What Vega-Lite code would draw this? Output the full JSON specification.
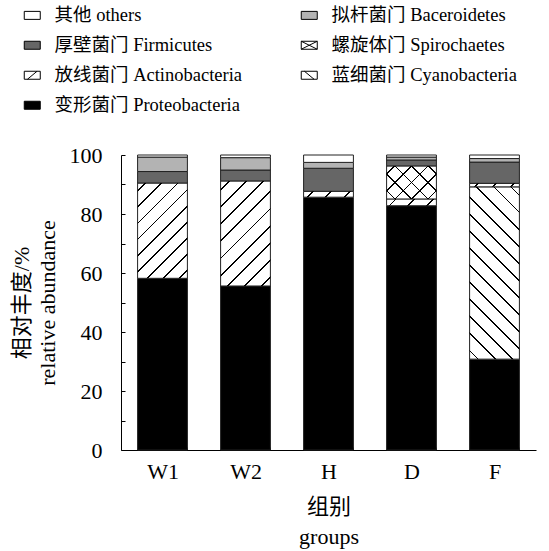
{
  "$schema": "https://vega.github.io/schema/vega-lite/v6.json",
  "width": 415,
  "height": 295,
  "autosize": {"type": "none"},
  "padding": {"left": 121, "top": 155, "right": 13, "bottom": 101},
  "background": "white",
  "config": {"view": {"stroke": null}},
  "data": {
    "values": [
      {"group": "W1", "phylum": "变形菌门 Proteobacteria", "value": 58.2},
      {"group": "W1", "phylum": "放线菌门 Actinobacteria", "value": 32.3},
      {"group": "W1", "phylum": "厚壁菌门 Firmicutes", "value": 3.9},
      {"group": "W1", "phylum": "拟杆菌门 Baceroidetes", "value": 4.9},
      {"group": "W1", "phylum": "其他 others", "value": 0.7},
      {"group": "W2", "phylum": "变形菌门 Proteobacteria", "value": 55.6},
      {"group": "W2", "phylum": "放线菌门 Actinobacteria", "value": 35.6},
      {"group": "W2", "phylum": "厚壁菌门 Firmicutes", "value": 3.7},
      {"group": "W2", "phylum": "拟杆菌门 Baceroidetes", "value": 4.2},
      {"group": "W2", "phylum": "其他 others", "value": 0.9},
      {"group": "H", "phylum": "变形菌门 Proteobacteria", "value": 85.7},
      {"group": "H", "phylum": "放线菌门 Actinobacteria", "value": 2.0},
      {"group": "H", "phylum": "厚壁菌门 Firmicutes", "value": 7.8},
      {"group": "H", "phylum": "拟杆菌门 Baceroidetes", "value": 2.0},
      {"group": "H", "phylum": "其他 others", "value": 2.5},
      {"group": "D", "phylum": "变形菌门 Proteobacteria", "value": 82.8},
      {"group": "D", "phylum": "放线菌门 Actinobacteria", "value": 2.3},
      {"group": "D", "phylum": "螺旋体门 Spirochaetes", "value": 11.2},
      {"group": "D", "phylum": "厚壁菌门 Firmicutes", "value": 2.0},
      {"group": "D", "phylum": "拟杆菌门 Baceroidetes", "value": 1.0},
      {"group": "D", "phylum": "其他 others", "value": 0.7},
      {"group": "F", "phylum": "变形菌门 Proteobacteria", "value": 30.8},
      {"group": "F", "phylum": "蓝细菌门 Cyanobacteria", "value": 58.4},
      {"group": "F", "phylum": "放线菌门 Actinobacteria", "value": 1.2},
      {"group": "F", "phylum": "厚壁菌门 Firmicutes", "value": 7.2},
      {"group": "F", "phylum": "拟杆菌门 Baceroidetes", "value": 1.2},
      {"group": "F", "phylum": "其他 others", "value": 1.2}
    ]
  },
  "transform": [
    {"stack": "value", "groupby": ["group"], "as": ["y0", "y1"]}
  ],
  "encoding": {
    "x": {
      "field": "group", "type": "nominal", "sort": ["W1", "W2", "H", "D", "F"],
      "scale": {"paddingInner": 0.4, "paddingOuter": 0.2},
      "axis": {
        "title": ["组别", "groups"], "titleFont": "'Liberation Serif', 'Noto Sans CJK SC'", "titleFontSize": 22,
        "titleFontWeight": "normal", "titleColor": "black", "titlePadding": 14, "titleLineHeight": 30,
        "labelAngle": 0, "labelFont": "Liberation Serif", "labelFontSize": 22, "labelColor": "black", "labelPadding": 14,
        "tickBand": "extent", "tickSize": -3, "tickColor": "black", "domainColor": "black", "grid": false
      }
    },
    "y": {
      "field": "y0", "type": "quantitative",
      "scale": {"domain": [0, 100], "nice": false},
      "axis": {
        "title": ["相对丰度/%", "relative abundance"], "titleFont": "'Liberation Serif', 'Noto Sans CJK SC'", "titleFontSize": 22,
        "titleFontWeight": "normal", "titleColor": "black", "titlePadding": 10, "titleLineHeight": 26,
        "values": [0, 10, 20, 30, 40, 50, 60, 70, 80, 90, 100],
        "labelExpr": "datum.value % 20 === 0 ? datum.label : ''",
        "labelFont": "Liberation Serif", "labelFontSize": 22, "labelColor": "black", "labelPadding": 23,
        "tickSize": -4, "tickColor": "black", "domainColor": "black", "grid": false
      }
    },
    "y2": {"field": "y1"}
  },
  "layer": [
    {
      "mark": {"type": "bar", "stroke": "#222", "strokeWidth": 1},
      "encoding": {
        "color": {
          "field": "phylum", "type": "nominal",
          "scale": {
            "domain": ["其他 others", "厚壁菌门 Firmicutes", "放线菌门 Actinobacteria", "变形菌门 Proteobacteria", "拟杆菌门 Baceroidetes", "螺旋体门 Spirochaetes", "蓝细菌门 Cyanobacteria"],
            "range": ["#ffffff", "#666666", "#ffffff", "#000000", "#b3b3b3", "#ffffff", "#ffffff"]
          },
          "legend": {
            "orient": "none", "legendX": -98, "legendY": -149, "columns": 2, "columnPadding": 56, "rowPadding": 11,
            "gridAlign": "each", "title": null, "padding": 0,
            "labelFont": "'Liberation Serif', 'Noto Sans CJK SC'", "labelFontSize": 18.5, "labelColor": "black", "labelLimit": 400, "labelOffset": 13,
            "symbolType": "M-1,-0.5H1V0.5H-1Z", "symbolSize": 256, "symbolStrokeColor": "black", "symbolStrokeWidth": 1, "symbolOpacity": 1,
            "encode": {
              "symbols": {
                "update": {
                  "shape": {"signal": "indexof(datum.value,'Actino')>=0 ? 'M-1,-0.5H1V0.5H-1ZM-0.6,0.5L0.6,-0.5' : indexof(datum.value,'Spiro')>=0 ? 'M-1,-0.5H1V0.5H-1ZM-1,-0.5L1,0.5M-1,0.5L1,-0.5' : indexof(datum.value,'Cyano')>=0 ? 'M-1,-0.5H1V0.5H-1ZM-0.6,-0.5L0.6,0.5' : 'M-1,-0.5H1V0.5H-1Z'"}
                }
              }
            }
          }
        }
      }
    },
    {
      "transform": [{"filter": "(datum.group==='W1') && indexof(datum.phylum,'Actino')>=0"}],
      "mark": {"type": "bar", "strokeWidth": 0, "fill": {"gradient": "linear", "x1": 0, "y1": 0, "x2": 0.625, "y2": 1.196, "stops": [
        {"offset": 0, "color": "rgba(0,0,0,0)"},
        {"offset": 0.0496, "color": "rgba(0,0,0,0)"}, {"offset": 0.0496, "color": "black"}, {"offset": 0.0616, "color": "black"}, {"offset": 0.0616, "color": "rgba(0,0,0,0)"},
        {"offset": 0.1607, "color": "rgba(0,0,0,0)"}, {"offset": 0.1607, "color": "black"}, {"offset": 0.1727, "color": "black"}, {"offset": 0.1727, "color": "rgba(0,0,0,0)"},
        {"offset": 0.2718, "color": "rgba(0,0,0,0)"}, {"offset": 0.2718, "color": "black"}, {"offset": 0.2838, "color": "black"}, {"offset": 0.2838, "color": "rgba(0,0,0,0)"},
        {"offset": 0.3829, "color": "rgba(0,0,0,0)"}, {"offset": 0.3829, "color": "black"}, {"offset": 0.3949, "color": "black"}, {"offset": 0.3949, "color": "rgba(0,0,0,0)"},
        {"offset": 0.494, "color": "rgba(0,0,0,0)"}, {"offset": 0.494, "color": "black"}, {"offset": 0.506, "color": "black"}, {"offset": 0.506, "color": "rgba(0,0,0,0)"},
        {"offset": 0.6051, "color": "rgba(0,0,0,0)"}, {"offset": 0.6051, "color": "black"}, {"offset": 0.6171, "color": "black"}, {"offset": 0.6171, "color": "rgba(0,0,0,0)"},
        {"offset": 0.7162, "color": "rgba(0,0,0,0)"}, {"offset": 0.7162, "color": "black"}, {"offset": 0.7282, "color": "black"}, {"offset": 0.7282, "color": "rgba(0,0,0,0)"},
        {"offset": 0.8273, "color": "rgba(0,0,0,0)"}, {"offset": 0.8273, "color": "black"}, {"offset": 0.8393, "color": "black"}, {"offset": 0.8393, "color": "rgba(0,0,0,0)"},
        {"offset": 0.9384, "color": "rgba(0,0,0,0)"}, {"offset": 0.9384, "color": "black"}, {"offset": 0.9504, "color": "black"}, {"offset": 0.9504, "color": "rgba(0,0,0,0)"},
        {"offset": 1, "color": "rgba(0,0,0,0)"}
      ]}}
    },
    {
      "transform": [{"filter": "(datum.group==='W2') && indexof(datum.phylum,'Actino')>=0"}],
      "mark": {"type": "bar", "strokeWidth": 0, "fill": {"gradient": "linear", "x1": 0, "y1": 0, "x2": 0.571, "y2": 1.204, "stops": [
        {"offset": 0, "color": "rgba(0,0,0,0)"},
        {"offset": 0.0496, "color": "rgba(0,0,0,0)"}, {"offset": 0.0496, "color": "black"}, {"offset": 0.0616, "color": "black"}, {"offset": 0.0616, "color": "rgba(0,0,0,0)"},
        {"offset": 0.1607, "color": "rgba(0,0,0,0)"}, {"offset": 0.1607, "color": "black"}, {"offset": 0.1727, "color": "black"}, {"offset": 0.1727, "color": "rgba(0,0,0,0)"},
        {"offset": 0.2718, "color": "rgba(0,0,0,0)"}, {"offset": 0.2718, "color": "black"}, {"offset": 0.2838, "color": "black"}, {"offset": 0.2838, "color": "rgba(0,0,0,0)"},
        {"offset": 0.3829, "color": "rgba(0,0,0,0)"}, {"offset": 0.3829, "color": "black"}, {"offset": 0.3949, "color": "black"}, {"offset": 0.3949, "color": "rgba(0,0,0,0)"},
        {"offset": 0.494, "color": "rgba(0,0,0,0)"}, {"offset": 0.494, "color": "black"}, {"offset": 0.506, "color": "black"}, {"offset": 0.506, "color": "rgba(0,0,0,0)"},
        {"offset": 0.6051, "color": "rgba(0,0,0,0)"}, {"offset": 0.6051, "color": "black"}, {"offset": 0.6171, "color": "black"}, {"offset": 0.6171, "color": "rgba(0,0,0,0)"},
        {"offset": 0.7162, "color": "rgba(0,0,0,0)"}, {"offset": 0.7162, "color": "black"}, {"offset": 0.7282, "color": "black"}, {"offset": 0.7282, "color": "rgba(0,0,0,0)"},
        {"offset": 0.8273, "color": "rgba(0,0,0,0)"}, {"offset": 0.8273, "color": "black"}, {"offset": 0.8393, "color": "black"}, {"offset": 0.8393, "color": "rgba(0,0,0,0)"},
        {"offset": 0.9384, "color": "rgba(0,0,0,0)"}, {"offset": 0.9384, "color": "black"}, {"offset": 0.9504, "color": "black"}, {"offset": 0.9504, "color": "rgba(0,0,0,0)"},
        {"offset": 1, "color": "rgba(0,0,0,0)"}
      ]}}
    },
    {
      "transform": [{"filter": "(datum.group==='H') && indexof(datum.phylum,'Actino')>=0"}],
      "mark": {"type": "bar", "strokeWidth": 0, "fill": {"gradient": "linear", "x1": 0, "y1": 0, "x2": 1.103, "y2": 0.1307, "stops": [
        {"offset": 0, "color": "rgba(0,0,0,0)"},
        {"offset": 0.1507, "color": "rgba(0,0,0,0)"}, {"offset": 0.1507, "color": "black"}, {"offset": 0.1827, "color": "black"}, {"offset": 0.1827, "color": "rgba(0,0,0,0)"},
        {"offset": 0.484, "color": "rgba(0,0,0,0)"}, {"offset": 0.484, "color": "black"}, {"offset": 0.516, "color": "black"}, {"offset": 0.516, "color": "rgba(0,0,0,0)"},
        {"offset": 0.8173, "color": "rgba(0,0,0,0)"}, {"offset": 0.8173, "color": "black"}, {"offset": 0.8493, "color": "black"}, {"offset": 0.8493, "color": "rgba(0,0,0,0)"},
        {"offset": 1, "color": "rgba(0,0,0,0)"}
      ]}}
    },
    {
      "transform": [{"filter": "(datum.group==='D') && indexof(datum.phylum,'Actino')>=0"}],
      "mark": {"type": "bar", "strokeWidth": 0, "fill": {"gradient": "linear", "x1": 0, "y1": 0, "x2": 1.116, "y2": 0.1524, "stops": [
        {"offset": 0, "color": "rgba(0,0,0,0)"},
        {"offset": 0.1507, "color": "rgba(0,0,0,0)"}, {"offset": 0.1507, "color": "black"}, {"offset": 0.1827, "color": "black"}, {"offset": 0.1827, "color": "rgba(0,0,0,0)"},
        {"offset": 0.484, "color": "rgba(0,0,0,0)"}, {"offset": 0.484, "color": "black"}, {"offset": 0.516, "color": "black"}, {"offset": 0.516, "color": "rgba(0,0,0,0)"},
        {"offset": 0.8173, "color": "rgba(0,0,0,0)"}, {"offset": 0.8173, "color": "black"}, {"offset": 0.8493, "color": "black"}, {"offset": 0.8493, "color": "rgba(0,0,0,0)"},
        {"offset": 1, "color": "rgba(0,0,0,0)"}
      ]}}
    },
    {
      "transform": [{"filter": "(datum.group==='F') && indexof(datum.phylum,'Actino')>=0"}],
      "mark": {"type": "bar", "strokeWidth": 0, "fill": {"gradient": "linear", "x1": 0, "y1": 0, "x2": 1.066, "y2": 0.0758, "stops": [
        {"offset": 0, "color": "rgba(0,0,0,0)"},
        {"offset": 0.1507, "color": "rgba(0,0,0,0)"}, {"offset": 0.1507, "color": "black"}, {"offset": 0.1827, "color": "black"}, {"offset": 0.1827, "color": "rgba(0,0,0,0)"},
        {"offset": 0.484, "color": "rgba(0,0,0,0)"}, {"offset": 0.484, "color": "black"}, {"offset": 0.516, "color": "black"}, {"offset": 0.516, "color": "rgba(0,0,0,0)"},
        {"offset": 0.8173, "color": "rgba(0,0,0,0)"}, {"offset": 0.8173, "color": "black"}, {"offset": 0.8493, "color": "black"}, {"offset": 0.8493, "color": "rgba(0,0,0,0)"},
        {"offset": 1, "color": "rgba(0,0,0,0)"}
      ]}}
    },
    {
      "transform": [{"filter": "(datum.group==='D') && indexof(datum.phylum,'Spiro')>=0"}],
      "mark": {"type": "bar", "strokeWidth": 0, "fill": {"gradient": "linear", "x1": 0, "y1": 0, "x2": 1.155, "y2": 0.766, "stops": [
        {"offset": 0, "color": "rgba(0,0,0,0)"},
        {"offset": 0.089, "color": "rgba(0,0,0,0)"}, {"offset": 0.089, "color": "black"}, {"offset": 0.111, "color": "black"}, {"offset": 0.111, "color": "rgba(0,0,0,0)"},
        {"offset": 0.289, "color": "rgba(0,0,0,0)"}, {"offset": 0.289, "color": "black"}, {"offset": 0.311, "color": "black"}, {"offset": 0.311, "color": "rgba(0,0,0,0)"},
        {"offset": 0.489, "color": "rgba(0,0,0,0)"}, {"offset": 0.489, "color": "black"}, {"offset": 0.511, "color": "black"}, {"offset": 0.511, "color": "rgba(0,0,0,0)"},
        {"offset": 0.689, "color": "rgba(0,0,0,0)"}, {"offset": 0.689, "color": "black"}, {"offset": 0.711, "color": "black"}, {"offset": 0.711, "color": "rgba(0,0,0,0)"},
        {"offset": 0.889, "color": "rgba(0,0,0,0)"}, {"offset": 0.889, "color": "black"}, {"offset": 0.911, "color": "black"}, {"offset": 0.911, "color": "rgba(0,0,0,0)"},
        {"offset": 1, "color": "rgba(0,0,0,0)"}
      ]}}
    },
    {
      "transform": [{"filter": "(datum.group==='D') && indexof(datum.phylum,'Spiro')>=0"}],
      "mark": {"type": "bar", "strokeWidth": 0, "fill": {"gradient": "linear", "x1": 0, "y1": 1, "x2": 1.155, "y2": 0.234, "stops": [
        {"offset": 0, "color": "rgba(0,0,0,0)"},
        {"offset": 0.089, "color": "rgba(0,0,0,0)"}, {"offset": 0.089, "color": "black"}, {"offset": 0.111, "color": "black"}, {"offset": 0.111, "color": "rgba(0,0,0,0)"},
        {"offset": 0.289, "color": "rgba(0,0,0,0)"}, {"offset": 0.289, "color": "black"}, {"offset": 0.311, "color": "black"}, {"offset": 0.311, "color": "rgba(0,0,0,0)"},
        {"offset": 0.489, "color": "rgba(0,0,0,0)"}, {"offset": 0.489, "color": "black"}, {"offset": 0.511, "color": "black"}, {"offset": 0.511, "color": "rgba(0,0,0,0)"},
        {"offset": 0.689, "color": "rgba(0,0,0,0)"}, {"offset": 0.689, "color": "black"}, {"offset": 0.711, "color": "black"}, {"offset": 0.711, "color": "rgba(0,0,0,0)"},
        {"offset": 0.889, "color": "rgba(0,0,0,0)"}, {"offset": 0.889, "color": "black"}, {"offset": 0.911, "color": "black"}, {"offset": 0.911, "color": "rgba(0,0,0,0)"},
        {"offset": 1, "color": "rgba(0,0,0,0)"}
      ]}}
    },
    {
      "transform": [{"filter": "(datum.group==='F') && indexof(datum.phylum,'Cyano')>=0"}],
      "mark": {"type": "bar", "strokeWidth": 0, "fill": {"gradient": "linear", "x1": 0, "y1": 1, "x2": 0.344, "y2": -0.19, "stops": [
        {"offset": 0, "color": "rgba(0,0,0,0)"},
        {"offset": 0.0343, "color": "rgba(0,0,0,0)"}, {"offset": 0.0343, "color": "black"}, {"offset": 0.0427, "color": "black"}, {"offset": 0.0427, "color": "rgba(0,0,0,0)"},
        {"offset": 0.1112, "color": "rgba(0,0,0,0)"}, {"offset": 0.1112, "color": "black"}, {"offset": 0.1196, "color": "black"}, {"offset": 0.1196, "color": "rgba(0,0,0,0)"},
        {"offset": 0.1881, "color": "rgba(0,0,0,0)"}, {"offset": 0.1881, "color": "black"}, {"offset": 0.1965, "color": "black"}, {"offset": 0.1965, "color": "rgba(0,0,0,0)"},
        {"offset": 0.265, "color": "rgba(0,0,0,0)"}, {"offset": 0.265, "color": "black"}, {"offset": 0.2734, "color": "black"}, {"offset": 0.2734, "color": "rgba(0,0,0,0)"},
        {"offset": 0.342, "color": "rgba(0,0,0,0)"}, {"offset": 0.342, "color": "black"}, {"offset": 0.3504, "color": "black"}, {"offset": 0.3504, "color": "rgba(0,0,0,0)"},
        {"offset": 0.4189, "color": "rgba(0,0,0,0)"}, {"offset": 0.4189, "color": "black"}, {"offset": 0.4273, "color": "black"}, {"offset": 0.4273, "color": "rgba(0,0,0,0)"},
        {"offset": 0.4958, "color": "rgba(0,0,0,0)"}, {"offset": 0.4958, "color": "black"}, {"offset": 0.5042, "color": "black"}, {"offset": 0.5042, "color": "rgba(0,0,0,0)"},
        {"offset": 0.5727, "color": "rgba(0,0,0,0)"}, {"offset": 0.5727, "color": "black"}, {"offset": 0.5811, "color": "black"}, {"offset": 0.5811, "color": "rgba(0,0,0,0)"},
        {"offset": 0.6496, "color": "rgba(0,0,0,0)"}, {"offset": 0.6496, "color": "black"}, {"offset": 0.658, "color": "black"}, {"offset": 0.658, "color": "rgba(0,0,0,0)"},
        {"offset": 0.7266, "color": "rgba(0,0,0,0)"}, {"offset": 0.7266, "color": "black"}, {"offset": 0.735, "color": "black"}, {"offset": 0.735, "color": "rgba(0,0,0,0)"},
        {"offset": 0.8035, "color": "rgba(0,0,0,0)"}, {"offset": 0.8035, "color": "black"}, {"offset": 0.8119, "color": "black"}, {"offset": 0.8119, "color": "rgba(0,0,0,0)"},
        {"offset": 0.8804, "color": "rgba(0,0,0,0)"}, {"offset": 0.8804, "color": "black"}, {"offset": 0.8888, "color": "black"}, {"offset": 0.8888, "color": "rgba(0,0,0,0)"},
        {"offset": 0.9573, "color": "rgba(0,0,0,0)"}, {"offset": 0.9573, "color": "black"}, {"offset": 0.9657, "color": "black"}, {"offset": 0.9657, "color": "rgba(0,0,0,0)"},
        {"offset": 1, "color": "rgba(0,0,0,0)"}
      ]}}
    }
  ]
}
